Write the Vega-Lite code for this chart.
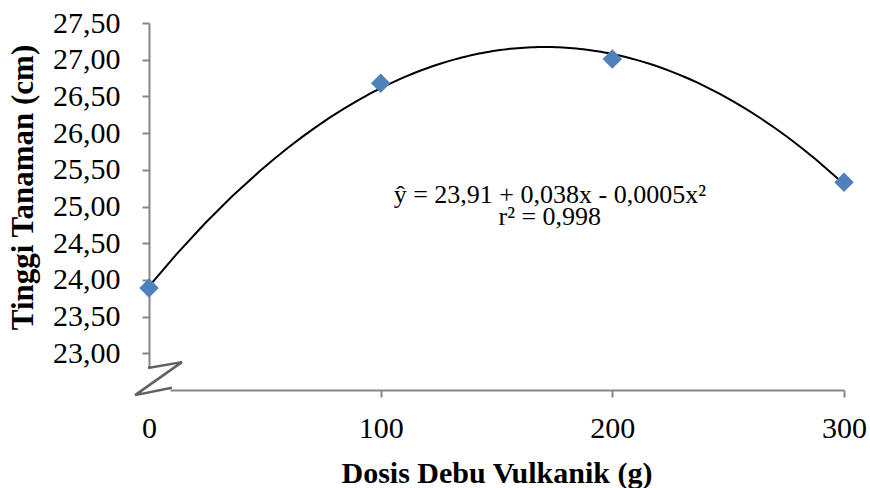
{
  "$schema": "https://vega.github.io/schema/vega-lite/v6.json",
  "width": 695,
  "height": 367,
  "autosize": {"type": "none"},
  "padding": {"left": 149, "top": 23, "right": 26, "bottom": 98},
  "background": "white",
  "config": {"view": {"stroke": null}, "font": "Liberation Serif"},
  "datasets": {
    "obs": [
      {"dosis": 0, "tinggi": 23.89},
      {"dosis": 100, "tinggi": 26.68},
      {"dosis": 200, "tinggi": 27.01},
      {"dosis": 300, "tinggi": 25.33}
    ],
    "brk": [
      {"k": 1, "bx": -0.4, "by": 22.8},
      {"k": 2, "bx": 14.2, "by": 22.88},
      {"k": 3, "bx": -6.0, "by": 22.43},
      {"k": 4, "bx": 9.9, "by": 22.53}
    ],
    "note": [
      {"line": 1, "nx": 173, "ny": 25.05, "txt": "ŷ =  23,91 + 0,038x - 0,0005x²"},
      {"line": 2, "nx": 173, "ny": 24.75, "txt": "r² = 0,998"}
    ]
  },
  "layer": [
    {
      "data": {"name": "obs"},
      "transform": [
        {"regression": "tinggi", "on": "dosis", "method": "poly", "order": 2, "extent": [0, 300]}
      ],
      "mark": {"type": "line", "color": "black", "strokeWidth": 2},
      "encoding": {
        "x": {
          "field": "dosis", "type": "quantitative",
          "scale": {"domain": [0, 300], "nice": false, "zero": false},
          "axis": {
            "values": [0, 100, 200, 300],
            "grid": false,
            "labelFlush": false,
            "labelOverlap": false,
            "labelFontSize": 30,
            "labelColor": "black",
            "labelFont": "Liberation Serif",
            "labelPadding": 16,
            "tickSize": 7,
            "tickWidth": 2,
            "tickColor": {"condition": {"test": "datum.value == 0", "value": "transparent"}, "value": "#868686"},
            "domain": true,
            "domainColor": "#868686",
            "domainWidth": 2,
            "domainDash": [1000, 1000],
            "domainDashOffset": 1979,
            "title": "Dosis Debu Vulkanik (g)",
            "titleFont": "Liberation Serif",
            "titleFontSize": 30,
            "titleFontWeight": "bold",
            "titleColor": "black",
            "titleBaseline": "alphabetic",
            "titleY": 92
          }
        },
        "y": {
          "field": "tinggi", "type": "quantitative",
          "scale": {"domain": [22.5, 27.5], "nice": false, "zero": false},
          "axis": {
            "values": [23, 23.5, 24, 24.5, 25, 25.5, 26, 26.5, 27, 27.5],
            "labelExpr": "replace(format(datum.value, '.2f'), '.', ',')",
            "grid": false,
            "labelOverlap": false,
            "labelFlush": false,
            "labelFontSize": 30,
            "labelColor": "black",
            "labelFont": "Liberation Serif",
            "labelPadding": 22,
            "tickSize": 7,
            "tickWidth": 2,
            "tickColor": "#868686",
            "domain": true,
            "domainColor": "#868686",
            "domainWidth": 2,
            "domainDash": [1000, 1000],
            "domainDashOffset": 1977,
            "title": "Tinggi Tanaman (cm)",
            "titleFont": "Liberation Serif",
            "titleFontSize": 31,
            "titleFontWeight": "bold",
            "titleColor": "black",
            "titleBaseline": "alphabetic",
            "titleAngle": 270,
            "titleX": -117,
            "titleY": 164
          }
        }
      }
    },
    {
      "data": {"name": "obs"},
      "mark": {"type": "point", "shape": "diamond", "filled": true, "size": 380, "color": "#4F81BD", "opacity": 1},
      "encoding": {
        "x": {"field": "dosis", "type": "quantitative"},
        "y": {"field": "tinggi", "type": "quantitative"}
      }
    },
    {
      "data": {"name": "brk"},
      "mark": {"type": "line", "color": "#3a3a3a", "strokeWidth": 2.5, "opacity": 0.8},
      "encoding": {
        "x": {"field": "bx", "type": "quantitative"},
        "y": {"field": "by", "type": "quantitative"},
        "order": {"field": "k"}
      }
    },
    {
      "data": {"name": "note"},
      "mark": {"type": "text", "font": "Liberation Serif", "fontSize": 26, "align": "center", "baseline": "alphabetic", "color": "black"},
      "encoding": {
        "x": {"field": "nx", "type": "quantitative"},
        "y": {"field": "ny", "type": "quantitative"},
        "text": {"field": "txt"}
      }
    }
  ]
}
